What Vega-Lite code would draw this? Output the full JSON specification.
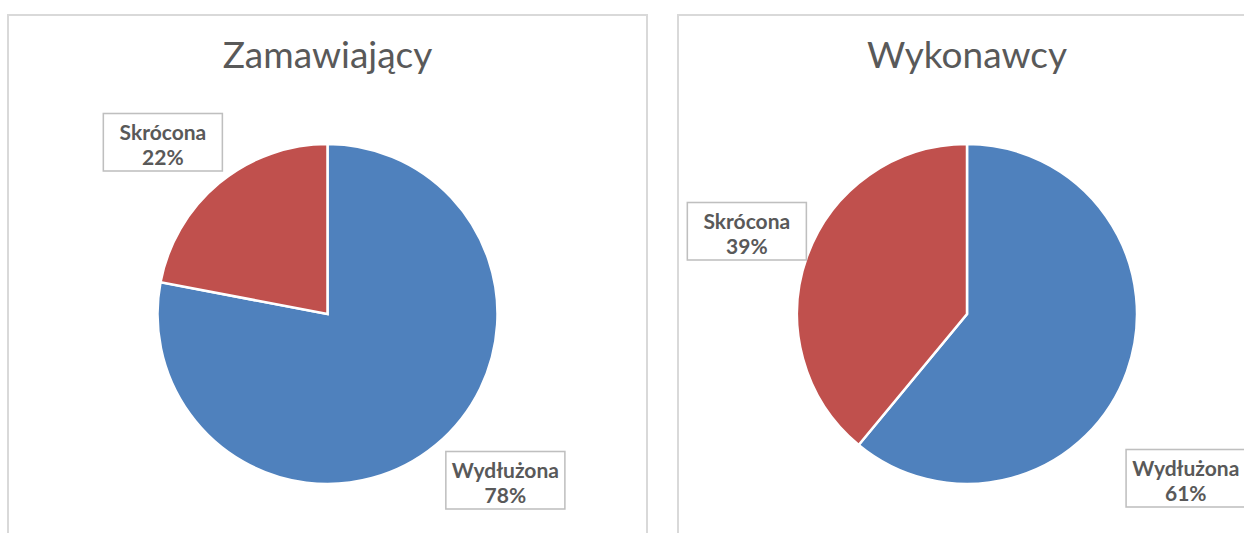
{
  "$schema": "https://vega.github.io/schema/vega-lite/v6.json",
  "padding": {"left": 7, "top": 14, "right": 0, "bottom": 0},
  "background": "white",
  "spacing": 31,
  "bounds": "flush",
  "datasets": {
    "pie": [
      {"panel": "Zamawiający", "category": "Wydłużona", "value": 0.78},
      {"panel": "Zamawiający", "category": "Skrócona", "value": 0.22},
      {"panel": "Wykonawcy", "category": "Wydłużona", "value": 0.61},
      {"panel": "Wykonawcy", "category": "Skrócona", "value": 0.39}
    ]
  },
  "config": {
    "view": {"stroke": "#D9D9D9", "strokeWidth": 2},
    "title": {"font": "Lato", "fontSize": 37, "fontWeight": "normal", "color": "#595959", "anchor": "middle", "frame": "group"}
  },
  "hconcat": [
    {
      "width": 639,
      "height": 598,
      "view": {"stroke": "#D9D9D9", "strokeWidth": 2},
      "title": {"text": "Zamawiający", "offset": -61},
      "data": {"name": "pie"},
      "transform": [{"filter": "datum.panel == 'Zamawiający'"}],
      "encoding": {
        "theta": {"field": "value", "type": "quantitative", "stack": true},
        "order": {"field": "category", "sort": "descending"},
        "detail": {"field": "category"}
      },
      "layer": [
        {
          "mark": {"type": "arc", "outerRadius": 170, "stroke": "white", "strokeWidth": 2.5},
          "encoding": {"color": {"field": "category", "type": "nominal", "scale": {"domain": ["Wydłużona", "Skrócona"], "range": ["#4F81BD", "#C0504D"]}, "legend": null}}
        },
        {
          "mark": {"type": "text", "font": "DejaVu Sans", "fontSize": 156, "fill": "white", "stroke": "#BFBFBF", "strokeWidth": 1.5, "align": "center", "baseline": "middle", "dy": -10,
                   "thetaOffset": {"expr": "datum.category == 'Wydłużona' ? -0.117 : -0.085"}, "radiusOffset": {"expr": "datum.category == 'Wydłużona' ? 6 : -5"}},
          "encoding": {"radius": {"value": 240}, "text": {"value": "▬"}}
        },
        {
          "mark": {"type": "text", "font": "Lato", "fontWeight": "bold", "fontSize": 21, "fill": "#595959", "align": "center", "baseline": "middle", "dy": -12,
                   "thetaOffset": {"expr": "datum.category == 'Wydłużona' ? -0.117 : -0.085"}, "radiusOffset": {"expr": "datum.category == 'Wydłużona' ? 6 : -5"}},
          "encoding": {"radius": {"value": 240}, "text": {"field": "category"}}
        },
        {
          "mark": {"type": "text", "font": "Lato", "fontWeight": "bold", "fontSize": 21, "fill": "#595959", "align": "center", "baseline": "middle", "dy": 13,
                   "thetaOffset": {"expr": "datum.category == 'Wydłużona' ? -0.117 : -0.085"}, "radiusOffset": {"expr": "datum.category == 'Wydłużona' ? 6 : -5"}},
          "encoding": {"radius": {"value": 240}, "text": {"field": "value", "type": "quantitative", "format": ".0%"}}
        }
      ]
    },
    {
      "width": 578,
      "height": 598,
      "view": {"stroke": "#D9D9D9", "strokeWidth": 2},
      "title": {"text": "Wykonawcy", "offset": -61},
      "data": {"name": "pie"},
      "transform": [{"filter": "datum.panel == 'Wykonawcy'"}],
      "encoding": {
        "theta": {"field": "value", "type": "quantitative", "stack": true},
        "order": {"field": "category", "sort": "descending"},
        "detail": {"field": "category"}
      },
      "layer": [
        {
          "mark": {"type": "arc", "outerRadius": 170, "stroke": "white", "strokeWidth": 2.5},
          "encoding": {"color": {"field": "category", "type": "nominal", "scale": {"domain": ["Wydłużona", "Skrócona"], "range": ["#4F81BD", "#C0504D"]}, "legend": null}}
        },
        {
          "mark": {"type": "text", "font": "DejaVu Sans", "fontSize": 156, "fill": "white", "stroke": "#BFBFBF", "strokeWidth": 1.5, "align": "center", "baseline": "middle", "dy": -10,
                   "thetaOffset": {"expr": "datum.category == 'Wydłużona' ? 0.31 : 0"}, "radiusOffset": {"expr": "datum.category == 'Wydłużona' ? 36 : -6"}},
          "encoding": {"radius": {"value": 240}, "text": {"value": "▬"}}
        },
        {
          "mark": {"type": "text", "font": "Lato", "fontWeight": "bold", "fontSize": 21, "fill": "#595959", "align": "center", "baseline": "middle", "dy": -12,
                   "thetaOffset": {"expr": "datum.category == 'Wydłużona' ? 0.31 : 0"}, "radiusOffset": {"expr": "datum.category == 'Wydłużona' ? 36 : -6"}},
          "encoding": {"radius": {"value": 240}, "text": {"field": "category"}}
        },
        {
          "mark": {"type": "text", "font": "Lato", "fontWeight": "bold", "fontSize": 21, "fill": "#595959", "align": "center", "baseline": "middle", "dy": 13,
                   "thetaOffset": {"expr": "datum.category == 'Wydłużona' ? 0.31 : 0"}, "radiusOffset": {"expr": "datum.category == 'Wydłużona' ? 36 : -6"}},
          "encoding": {"radius": {"value": 240}, "text": {"field": "value", "type": "quantitative", "format": ".0%"}}
        }
      ]
    }
  ]
}
